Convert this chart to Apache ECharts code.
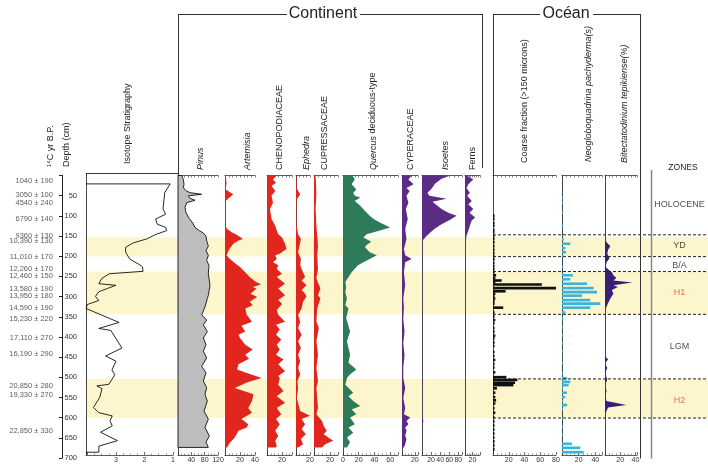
<!DOCTYPE html>
<html><head><meta charset="utf-8">
<script src="https://cdn.jsdelivr.net/npm/echarts@6/dist/echarts.min.js"></script>
<style>html,body{margin:0;padding:0;background:#fff}#c{width:708px;height:464px}</style>
</head><body><div id="c"></div>
<script>
// ---------------- DATA ----------------
const ageLabels = ['1040 ± 190','3050 ± 100','4540 ± 240','6790 ± 140','9360 ± 130','10,390 ± 130','11,010 ± 170','12,260 ± 170','12,460 ± 150','13,580 ± 190','13,950 ± 180','14,590 ± 190','15,230 ± 220','17,110 ± 270','16,190 ± 290','20,850 ± 280','19,330 ± 270','22,850 ± 330'];
const ageDepths = [14,48,69,108,150,163,201,231,249,280,298,329,355,402,443,521,544,632];

const zoneNames = ['HOLOCENE','YD','B/A','H1','LGM','H2'];
const zoneLabelDepths = [73,174,222,290,424,558];
const zoneLines = [147,201,238,344,504,601];
const yellowBands = [[153,201],[238,344],[504,601]];

const depthTicks = [50,100,150,200,250,300,350,400,450,500,550,600,650,700];
const isotopeTicks = [1,2,3];
const pinusTicks = [40,80,120];
const artemisiaTicks = [20,40];
const chenoTicks = [20];
const ephedraTicks = [20];
const cupressTicks = [20];
const quercusTicks = [0,20,40,60];
const cyperTicks = [20];
const isoetesTicks = [20,40,60,80];
const fernsTicks = [20];
const coarseTicks = [20,40,60,80];
const neogloTicks = [20,40];
const bitectTicks = [20,40];

// [value, depth(cm)]
const isotope = [[4.05,21],[1.1,21],[1.29,43],[1.35,84],[1.26,97],[1.61,109],[1.55,122],[1.26,130],[1.22,138],[1.58,147],[1.93,159],[2.40,169],[2.66,180],[2.66,192],[2.52,209],[2.16,224],[2.07,229],[2.05,240],[3.23,246],[3.5,258],[3.6,271],[3.0,275],[3.3,283],[3.6,291],[3.72,303],[3.6,313],[4.0,323],[4.05,333],[2.89,368],[3.6,383],[3.18,388],[2.79,432],[3.36,452],[3.0,465],[3.14,487],[3.04,499],[3.25,523],[3.67,527],[3.49,534],[3.57,556],[3.79,581],[3.6,594],[3.13,602],[3.21,614],[3.13,627],[3.54,643],[2.95,664],[3.6,678],[3.6,693],[4.05,693]];

const pinus = [[11,0],[16,10],[18,22],[16,31],[26,39],[36,43],[71,47],[31,51],[36,57],[51,62],[26,68],[21,80],[24,93],[34,108],[44,119],[51,130],[64,138],[76,144],[84,152],[86,163],[91,177],[84,188],[91,200],[86,213],[93,225],[91,246],[96,275],[91,300],[88,308],[81,329],[71,349],[86,362],[76,374],[88,391],[76,407],[84,424],[76,440],[86,457],[71,478],[84,494],[76,515],[86,531],[81,548],[88,565],[78,590],[91,610],[81,631],[94,652],[84,668],[91,681]];

const artemisia = [[1,0],[2,18],[1,35],[4,39],[11,47],[6,55],[1,64],[0.5,84],[0.5,126],[3,134],[9,142],[16,149],[24,159],[18,163],[11,171],[6,184],[2,200],[7,210],[13,219],[20,229],[27,242],[33,254],[40,265],[48,273],[37,279],[42,283],[38,290],[34,296],[43,304],[33,316],[37,325],[27,333],[29,349],[36,366],[22,376],[27,391],[18,399],[20,407],[27,424],[37,436],[27,449],[32,459],[18,473],[16,486],[33,497],[49,507],[30,518],[13,532],[38,548],[36,565],[31,582],[36,594],[22,610],[31,623],[29,631],[18,639],[13,656],[7,668],[4,677],[3,681]];

const cheno = [[13,0],[8,10],[12,18],[6,26],[11,39],[6,51],[8,68],[4,84],[6,109],[11,126],[13,138],[15,147],[20,155],[24,171],[26,184],[17,196],[11,200],[13,209],[8,217],[15,225],[13,234],[20,246],[13,254],[24,271],[15,283],[24,300],[15,312],[20,322],[13,337],[15,349],[24,366],[12,374],[17,386],[12,399],[19,411],[13,424],[17,436],[12,449],[22,461],[15,473],[24,490],[15,502],[17,507],[15,524],[22,540],[13,553],[24,569],[13,582],[19,598],[12,610],[17,623],[11,639],[15,652],[11,664],[13,677],[12,681]];

const ephedra = [[0.5,0],[1,30],[3,39],[6,47],[1,60],[0.5,100],[1,126],[3,147],[7,159],[5,176],[3,192],[7,209],[6,225],[10,242],[13,254],[8,263],[15,275],[8,287],[13,296],[15,303],[10,316],[8,333],[3,349],[6,366],[3,382],[8,399],[3,415],[7,432],[3,449],[6,465],[3,482],[6,498],[2,515],[3,531],[2,548],[1,557],[6,590],[20,602],[8,610],[13,623],[8,635],[14,648],[7,660],[10,673],[3,681]];

const cupress = [[2,0],[3,43],[2,84],[3,126],[5,176],[4,200],[5,234],[3,258],[8,283],[5,300],[8,308],[4,333],[3,366],[6,382],[3,415],[5,449],[3,482],[5,515],[3,532],[5,582],[3,598],[10,615],[12,627],[16,639],[12,648],[18,656],[24,664],[14,673],[10,681]];

const quercus = [[12,0],[15,10],[11,22],[17,35],[13,43],[15,51],[22,55],[15,64],[22,76],[28,89],[34,101],[39,109],[47,118],[60,130],[47,138],[30,147],[26,155],[36,166],[30,174],[28,180],[34,192],[43,200],[34,209],[26,217],[19,225],[11,242],[7,254],[3,267],[4,279],[3,292],[5,308],[3,325],[7,333],[4,357],[9,391],[5,415],[9,449],[7,469],[17,486],[9,498],[5,507],[3,524],[9,536],[13,544],[7,553],[13,565],[22,577],[11,586],[17,598],[9,606],[15,623],[7,631],[13,644],[5,656],[9,668],[5,681]];

const cyper = [[15,0],[10,10],[18,22],[7,31],[12,39],[7,51],[10,68],[6,84],[9,109],[5,134],[7,159],[3,184],[5,200],[15,209],[5,217],[3,242],[5,275],[2,308],[3,329],[2,360],[4,390],[2,420],[4,450],[2,480],[2,507],[5,532],[2,557],[5,582],[3,598],[13,606],[7,615],[10,623],[5,631],[7,639],[5,652],[7,660],[5,673],[3,681]];

const isoetes = [[62,0],[43,8],[29,20],[21,33],[12,43],[16,51],[54,58],[23,66],[34,76],[43,84],[58,93],[76,101],[62,111],[43,122],[27,134],[14,147],[7,155],[1.5,163],[0.5,176],[0.5,600],[3,615],[0.5,630],[0.5,681]];

const ferns = [[4,0],[22,10],[9,22],[4,31],[13,43],[6,51],[18,64],[9,72],[22,84],[12,93],[27,105],[18,113],[13,126],[9,138],[4,151],[3,159],[1,209],[0.5,250],[0.5,681]];

const coarse = [[2,101],[2,109],[2,119],[2,126],[2,136],[2,142],[2,152],[2,159],[2,167],[2,177],[2,186],[2,194],[2,202],[2,210],[2,219],[2,227],[2,235],[2,243],[4,250],[3,257],[11,263],[3,268],[62,273],[80,282],[16,290],[3,296],[2,301],[3,308],[2,315],[2,321],[13,331],[2,343],[2,353],[3,362],[2,370],[2,382],[2,391],[3,401],[2,408],[2,418],[2,427],[2,442],[2,452],[3,462],[2,472],[2,481],[3,493],[17,505],[31,512],[28,519],[26,525],[5,533],[3,544],[3,555],[4,563],[3,571],[2,583],[3,594],[2,606],[2,616],[2,626],[2,636],[2,646],[2,656],[2,666],[2,676],[2,686]];

const neoglo = [[1,55],[1,68],[1,93],[1,126],[2,159],[10,171],[4,182],[5,192],[2,202],[1,229],[13,250],[10,260],[30,271],[38,282],[42,292],[24,301],[34,312],[46,321],[34,331],[4,343],[1,358],[1,380],[1,400],[1,420],[1,440],[1,470],[1,495],[6,508],[10,517],[8,525],[1,533],[6,544],[4,555],[1,565],[6,575],[1,585],[1,610],[1,630],[1,650],[12,672],[22,682],[26,693]];

const bitect = [[0,160],[2,167],[7,177],[4,186],[3,196],[6,207],[2,217],[1,229],[4,235],[9,242],[11,250],[15,257],[11,263],[36,268],[11,275],[17,279],[9,287],[11,296],[7,308],[4,320],[1,333],[0,340],[0,452],[4,461],[0,470],[3,482],[0,495],[3,511],[0,525],[2,540],[0,555],[2,565],[28,575],[4,581],[1,594],[0,600]];

// ---------------- BUILD ----------------
const TOP = 175.5, BOT = 6;
const FONT = 'Liberation Sans, Arial, sans-serif';
const AX = '#333';
const grid = [], xAxis = [], yAxis = [], series = [];

function addGrid(left, width, xs, y) {
  const gi = grid.length;
  const g = {left: left, top: TOP, bottom: BOT, containLabel: false, show: false};
  if (width == null) g.right = 0; else g.width = width;
  grid.push(g);
  const xi = xAxis.length;
  (xs || [{}]).forEach(o => xAxis.push(Object.assign({type:'value', gridIndex:gi, show:false, min:0, max:1, splitLine:{show:false}}, o)));
  const yi = yAxis.length;
  yAxis.push(Object.assign({type:'value', gridIndex:gi, show:false, min:0, max:700, inverse:true, splitLine:{show:false}}, y || {}));
  return {xi, yi};
}
const leftLineY = {show:true, position:'left', axisLine:{show:true, onZero:false, lineStyle:{color:AX, width:0.9}}, axisTick:{show:false}, axisLabel:{show:false}};

function bottomAxis(max, step, labels, split, extra) {
  return Object.assign({show:true, position:'bottom', min:0, max:max, interval:step,
    axisLine:{show:true, onZero:false, lineStyle:{color:AX, width:0.8}},
    axisTick:{show:true, inside:true, length:3, lineStyle:{color:AX, width:0.7}},
    minorTick:{show:true, splitNumber:split || 4, length:1.5, lineStyle:{color:AX, width:0.5}},
    axisLabel:{show:true, fontSize:7, color:'#333', margin:2, fontFamily:FONT,
      formatter: v => labels.indexOf(v) >= 0 ? String(v) : ''}}, extra || {});
}
function topAxis(max, step) {
  return {show:true, position:'top', min:0, max:max, interval:step,
    axisLine:{show:true, onZero:false, lineStyle:{color:AX, width:0.8}},
    axisTick:{show:true, inside:true, length:2, lineStyle:{color:AX, width:0.6}},
    axisLabel:{show:false}};
}
function areaSeries(ax, data, color, stroke) {
  return {type:'custom', xAxisIndex:ax.xi, yAxisIndex:ax.yi, silent:true, z:3, data:data,
    renderItem:(p, api) => {
      if (p.dataIndex !== 0) return null;
      const pts = [api.coord([0, data[0][1]])];
      data.forEach(d => pts.push(api.coord(d)));
      pts.push(api.coord([0, data[data.length-1][1]]));
      return {type:'polygon', shape:{points:pts}, style:{fill:color, stroke:stroke || null, lineWidth:stroke ? 0.9 : 0}};
    }};
}
function barSeries(ax, data, color, h) {
  return {type:'custom', xAxisIndex:ax.xi, yAxisIndex:ax.yi, silent:true, z:3, data:data,
    renderItem:(p, api) => {
      const v = api.value(0), d = api.value(1);
      const a = api.coord([0, d]), b = api.coord([v, d]);
      return {type:'rect', shape:{x:a[0], y:a[1]-h/2, width:b[0]-a[0], height:h}, style:{fill:color}};
    }};
}

// yellow zones background
const bg = addGrid(86, null);
series.push({type:'custom', xAxisIndex:bg.xi, yAxisIndex:bg.yi, silent:true, z:-1, data:yellowBands,
  renderItem:(p, api) => {
    const a = api.coord([0, api.value(0)]), b = api.coord([1, api.value(1)]);
    return {type:'rect', shape:{x:a[0], y:a[1], width:b[0]-a[0], height:b[1]-a[1]}, style:{fill:'#fdf6cc'}};
  }});
// dashed zone boundaries (ocean side)
const dz = addGrid(493, null);
series.push({type:'custom', xAxisIndex:dz.xi, yAxisIndex:dz.yi, silent:true, z:4, data:zoneLines.map(d => [0, d]),
  renderItem:(p, api) => {
    const a = api.coord([0, api.value(1)]), b = api.coord([1, api.value(1)]);
    return {type:'line', shape:{x1:a[0], y1:a[1], x2:b[0], y2:b[1]}, style:{stroke:'#222', lineWidth:1, lineDash:[3,2]}};
  }});
// depth axis
addGrid(62, 4, [{}], {show:true, position:'left', interval:50,
  axisLine:{show:true, onZero:false, lineStyle:{color:'#222', width:1}},
  axisTick:{show:true, length:3, lineStyle:{color:'#222'}},
  axisLabel:{show:true, inside:true, margin:15, align:'right', fontSize:7.5, color:'#333', fontFamily:FONT,
    formatter: v => depthTicks.indexOf(v) >= 0 ? String(v) : ''}});
// ages
const ag = addGrid(0, 53);
series.push({type:'scatter', xAxisIndex:ag.xi, yAxisIndex:ag.yi, silent:true, symbolSize:0.1, itemStyle:{color:'rgba(0,0,0,0)'},
  data: ageDepths.map((d, i) => ({value:[1, d], name:ageLabels[i]})),
  label:{show:true, position:'left', distance:0, formatter: p => p.name, fontSize:7.5, color:'#333', fontFamily:FONT}});
// isotope
const iso = addGrid(86, 87, [{show:true, position:'bottom', min:1, max:4.05, inverse:true, interval:1,
    axisLine:{show:true, onZero:false, lineStyle:{color:AX, width:0.8}},
    axisTick:{show:true, inside:true, length:3, lineStyle:{color:AX, width:0.7}},
    minorTick:{show:true, splitNumber:4, length:1.5, lineStyle:{color:AX, width:0.5}},
    axisLabel:{show:true, fontSize:7, color:'#333', margin:2, fontFamily:FONT,
      formatter: v => isotopeTicks.indexOf(v) >= 0 ? String(v) : ''}}], leftLineY);
series.push({type:'line', xAxisIndex:iso.xi, yAxisIndex:iso.yi, data:isotope, showSymbol:false, symbol:'none', silent:true,
  clip:false, lineStyle:{color:'#111', width:0.9}, z:3});

// pollen / ocean panels
const panels = [
  {d:pinus, left:178, w:40, max:120, step:40, ticks:pinusTicks, topStep:10, color:'#bdbdbd', stroke:'#111'},
  {d:artemisia, left:225, w:30, max:40, step:20, ticks:artemisiaTicks, topStep:5, color:'#e3261d'},
  {d:cheno, left:267, w:25, max:33.3, step:20, ticks:chenoTicks, topStep:5, color:'#e3261d'},
  {d:ephedra, left:296, w:14, max:20, step:20, ticks:ephedraTicks, topStep:5, color:'#e3261d'},
  {d:cupress, left:314, w:24, max:30, step:20, ticks:cupressTicks, topStep:5, color:'#e3261d'},
  {d:quercus, left:343, w:55, max:70, step:20, ticks:quercusTicks, topStep:5, color:'#2e7b5a'},
  {d:cyper, left:402, w:16, max:25, step:20, ticks:cyperTicks, topStep:5, color:'#5b2c83'},
  {d:isoetes, left:422, w:40, max:88, step:20, ticks:isoetesTicks, topStep:10, color:'#5b2c83', split:2},
  {d:ferns, left:465, w:15, max:40, step:20, ticks:fernsTicks, topStep:5, color:'#5b2c83'},
  {d:coarse, left:493, w:63, max:80, step:20, ticks:coarseTicks, topStep:5, color:'#111', bars:2.6},
  {d:neoglo, left:562, w:40, max:48, step:20, ticks:neogloTicks, topStep:5, color:'#3db2da', bars:2.6},
  {d:bitect, left:605, w:32, max:42, step:20, ticks:bitectTicks, topStep:5, color:'#3a1f74'}
];
panels.forEach(pc => {
  const ax = addGrid(pc.left, pc.w, [bottomAxis(pc.max, pc.step, pc.ticks, pc.split), topAxis(pc.max, pc.topStep)], leftLineY);
  series.push(pc.bars ? barSeries(ax, pc.d, pc.color, pc.bars) : areaSeries(ax, pc.d, pc.color, pc.stroke));
});

// zone labels
const zn = addGrid(651, null);
series.push({type:'scatter', xAxisIndex:zn.xi, yAxisIndex:zn.yi, silent:true, symbolSize:0.1, itemStyle:{color:'rgba(0,0,0,0)'},
  data: zoneNames.map((n, i) => ({value:[0.5, zoneLabelDepths[i]], name:n,
    label:{color: (n === 'H1' || n === 'H2') ? '#e0453c' : '#222'}})),
  label:{show:true, position:'inside', formatter: p => p.name, fontSize:9, fontFamily:FONT}});

// ---------------- decorations ----------------
const ln = (x1,y1,x2,y2,c,w) => ({type:'line', silent:true, z:5, shape:{x1,y1,x2,y2}, style:{stroke:c || '#333', lineWidth:w || 1}});
const vtxt = (x, bottom, text, italic, rich) => ({type:'text', silent:true, z:5, x:x, y:bottom, rotation:Math.PI/2,
  style:{text:text, fill:'#222', fontSize:9, fontFamily:FONT, fontStyle: italic ? 'italic' : 'normal',
    align:'left', verticalAlign:'middle', textAlign:'left', textVerticalAlign:'middle', rich:rich}});
const htxt = (x, y, text, size) => ({type:'text', silent:true, z:5, x:x, y:y,
  style:{text:text, fill:'#222', fontSize:size, fontFamily:FONT, align:'center', verticalAlign:'middle', textAlign:'center', textVerticalAlign:'middle'}});

const graphic = [
  ln(178,14.5,287,14.5), ln(360,14.5,482,14.5), ln(178.5,14,178.5,176), ln(482.5,14,482.5,168),
  ln(493,14.5,540,14.5), ln(593,14.5,640,14.5), ln(493.5,14,493.5,176), ln(640.5,14,640.5,458.5),
  ln(651.5,170,651.5,458.5,'#888',1.5),
  ln(86,173.5,178,173.5), ln(86.5,173,86.5,176),
  htxt(323,14,'Continent',16), htxt(566,14,'Océan',16), htxt(683,168,'ZONES',8.5),
  vtxt(51,167,'¹⁴C yr B.P.'), vtxt(67,167,'Depth (cm)'), vtxt(128,164,'Isotope Stratigraphy'),
  vtxt(200,170,'Pinus',true), vtxt(247,170,'Artemisia',true), vtxt(279.5,170,'CHENOPODIACEAE'),
  vtxt(306.5,170,'Ephedra',true), vtxt(324.5,170,'CUPRESSACEAE'),
  vtxt(373,170,'{i|Quercus} deciduous-type',false,{i:{fontStyle:'italic',fontSize:9,fontFamily:FONT,fill:'#222'}}),
  vtxt(411,170,'CYPERACEAE'), vtxt(445,170,'Isoetes',true), vtxt(473,170,'Ferns'),
  vtxt(525,163,'Coarse fraction (>150 microns)'), vtxt(588,162,'Neogloboquadrina pachyderma(s)',true),
  vtxt(624,163,'Bitectatodinium tepikiense(%)',true)
];

const chart = echarts.init(document.getElementById('c'), null, {renderer:'canvas'});
chart.setOption({animation:false, backgroundColor:'#fff', grid, xAxis, yAxis, series, graphic});
</script></body></html>
